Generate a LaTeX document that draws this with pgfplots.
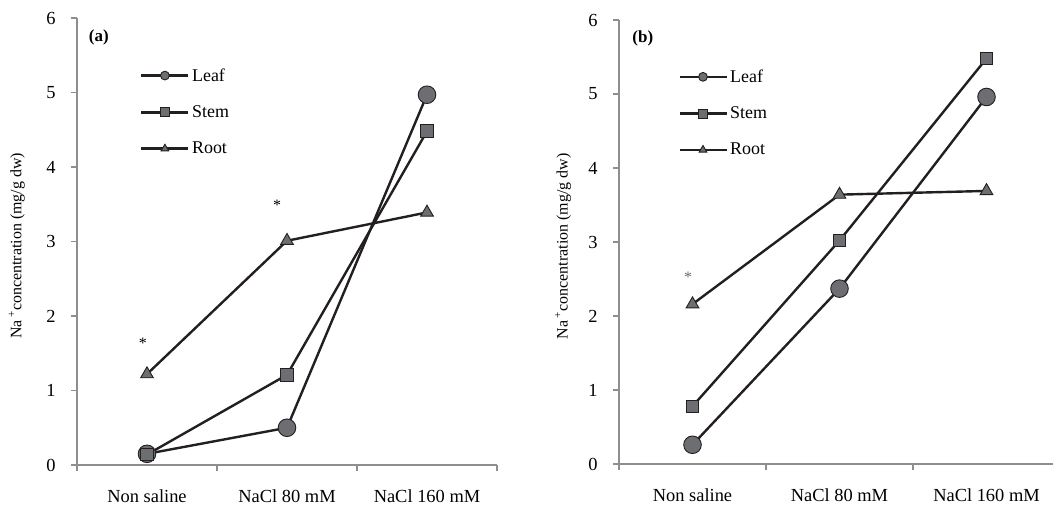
\documentclass[border=0pt]{standalone}
\usepackage{pgfplots}
\pgfplotsset{compat=1.18}
\usepackage{fontspec}
\setmainfont{Liberation Serif}
\definecolor{axgray}{HTML}{8E8E8E}
\definecolor{ln}{HTML}{231F20}
\definecolor{mk}{HTML}{6D6E71}
\definecolor{astgray}{HTML}{6A6A6A}
\pgfplotsset{
  panel/.style={
    scale only axis,
    xmin=0, xmax=3, ymin=0, ymax=6,
    axis lines=left,
    axis line style={-, draw=axgray, line width=1.1bp},
    xtick={0,1,2,3}, xticklabels={},
    extra x ticks={0.5,1.5,2.5},
    extra x tick labels={Non saline, NaCl 80 mM, NaCl 160 mM},
    extra x tick style={major tick length=0pt},
    xticklabel style={yshift=-21bp},
    ytick={0,1,...,6},
    tick align=outside,
    major tick length=6bp,
    tick style={draw=axgray, line width=1.1bp},
    ticklabel style={font=\fontsize{18.5}{21}\selectfont, text=black},
    yticklabel style={xshift=-12bp},
    /pgf/number format/assume math mode=true,
    ylabel={Na\,\textsuperscript{+}concentration (mg/g dw)},
    ylabel style={font=\fontsize{16}{19}\selectfont, anchor=center},
    clip=false,
    legend style={draw=none, fill=none, inner sep=0pt, row sep=18bp,
      nodes={inner sep=2.5bp, anchor=west}, font=\fontsize{18}{21}\selectfont},
    legend cell align=left,
    legend image code/.code={
      \draw[##1, mark=none] (0bp,0bp) -- (47bp,0bp);
      \draw[##1, mark size=4.4bp] plot coordinates {(23.5bp,0bp)};
    },
  },
  s/.style={ln, line width=2.4bp, mark options={fill=mk, draw=ln, line width=0.9bp, solid}},
}
\begin{document}
\begin{tikzpicture}
\useasboundingbox (0,0) rectangle (1053bp,505bp);
% (a)
\begin{axis}[panel, at={(77bp,40bp)}, anchor=south west, width=420bp, height=447bp,
  ylabel style={at={(axis description cs:-0.143,0.49)}},
  legend style={at={(rel axis cs:0.15,0.893)}, anchor=north west}]
\addplot[s, mark=*, mark size=8.8bp] coordinates {(0.5,0.15)(1.5,0.50)(2.5,4.97)};
\addlegendentry{Leaf}
\addplot[s, mark=square*, mark size=6.3bp] coordinates {(0.5,0.14)(1.5,1.21)(2.5,4.48)};
\addlegendentry{Stem}
\addplot[s, mark=triangle*, mark size=7.3bp] coordinates {(0.5,1.22)(1.5,3.01)(2.5,3.39)};
\addlegendentry{Root}
\node[font=\fontsize{17}{20}\selectfont\bfseries] at (axis description cs:0.052,0.957) {(a)};
\node[font=\fontsize{16}{19}\selectfont, anchor=base] at (axis cs:0.47,1.56) {*};
\node[font=\fontsize{16}{19}\selectfont, anchor=base] at (axis cs:1.43,3.42) {*};
\end{axis}
% (b)
\begin{axis}[panel, at={(619bp,41bp)}, anchor=south west, width=441bp, height=444bp,
  ylabel style={at={(axis description cs:-0.127,0.49)}},
  legend style={at={(rel axis cs:0.134,0.894)}, anchor=north west}]
\addplot[s, mark=*, mark size=8.8bp] coordinates {(0.5,0.26)(1.5,2.37)(2.5,4.96)};
\addlegendentry{Leaf}
\addplot[s, mark=square*, mark size=6.3bp] coordinates {(0.5,0.78)(1.5,3.02)(2.5,5.48)};
\addlegendentry{Stem}
\addplot[s, mark=triangle*, mark size=7.3bp] coordinates {(0.5,2.16)(1.5,3.64)(2.5,3.69)};
\addlegendentry{Root}
\node[font=\fontsize{17}{20}\selectfont\bfseries] at (axis description cs:0.054,0.959) {(b)};
\node[font=\fontsize{16}{19}\selectfont, anchor=base, text=astgray] at (axis cs:0.47,2.45) {*};
\end{axis}
\end{tikzpicture}
\end{document}
